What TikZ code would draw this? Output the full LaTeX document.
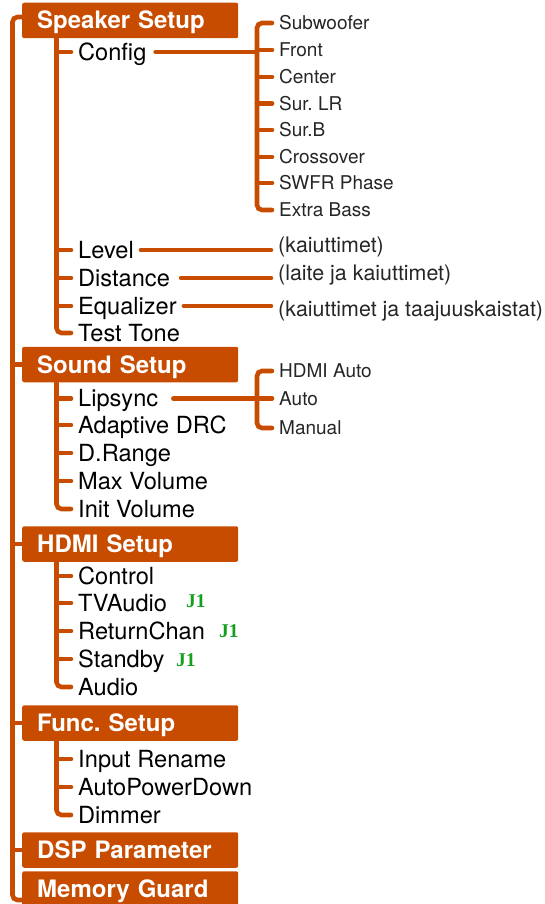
\documentclass[tikz,border=0pt]{standalone}
\usepackage{fontspec}
\setmainfont{TeX Gyre Heros}
\newfontfamily\jfont{Liberation Serif}
\usetikzlibrary{calc}
\definecolor{menuorange}{RGB}{200,76,0}
\definecolor{jgreen}{RGB}{20,160,30}
\frenchspacing

\begin{document}
\begin{tikzpicture}[x=1pt, y=1pt,
  menubox/.style={rectangle, rounded corners=2pt, fill=menuorange, text=white,
                  minimum width=216pt, minimum height=35.5pt,
                  inner xsep=15pt, inner ysep=0pt, text width=186pt, align=left,
                  anchor=west, text height=17pt, text depth=0pt,
                  font=\fontsize{24}{28}\selectfont\bfseries},
  item/.style={anchor=west, inner xsep=7pt, inner ysep=0pt,
               text height=16.8pt, text depth=0pt, font=\fontsize{23.6}{27}\selectfont},
  opt/.style={anchor=west, inner xsep=7pt, inner ysep=0pt, text=black!85,
              text height=13.7pt, text depth=0pt, font=\fontsize{19}{23}\selectfont},
  note/.style={anchor=west, inner xsep=7pt, inner ysep=0pt, text=black!85,
               text height=15.3pt, text depth=0pt, font=\fontsize{21.4}{25}\selectfont},
  jtag/.style={anchor=base west, inner sep=0pt, text=jgreen,
               font=\fontsize{19.5}{22}\jfont\bfseries},
  branch/.style={draw=menuorange, line width=4.6pt, line cap=round, rounded corners=5pt},
]
\useasboundingbox (0,0) rectangle (544,-904);

%% ── Menu boxes ──────────────────────────────────────────────────────
\node[menubox] (spk) at (22,-20.5) {Speaker Setup};
\node[menubox] (snd) at (22,-364.5) {Sound Setup};
\node[menubox] (hdm) at (22,-544)  {HDMI Setup};
\node[menubox] (fnc) at (22,-723)  {Func. Setup};
\node[menubox] (dsp) at (22,-850)  {DSP Parameter};
\node[menubox] (mem) at (22,-889)  {Memory Guard};

%% ── Speaker Setup items ─────────────────────────────────────────────
\node[item] (cfg)  at (71,-52)  {Config};
\node[item] (lvl)  at (71,-250) {Level};
\node[item] (dist) at (71,-278) {Distance};
\node[item] (eq)   at (71,-306) {Equalizer};
\node[item] (tone) at (71,-333) {Test Tone};

%% ── Config options ──────────────────────────────────────────────────
\node[opt] (sub)  at (272,-23)    {Subwoofer};
\node[opt] (frt)  at (272,-50)    {Front};
\node[opt] (cen)  at (272,-77)    {Center};
\node[opt] (slr)  at (272,-103.5) {Sur. LR};
\node[opt] (sb)   at (272,-130)   {Sur.B};
\node[opt] (xov)  at (272,-157)   {Crossover};
\node[opt] (swfr) at (272,-183)   {SWFR Phase};
\node[opt] (xbs)  at (272,-210)   {Extra Bass};

%% ── Notes ───────────────────────────────────────────────────────────
\node[note] (kai)  at (271,-245) {(kaiuttimet)};
\node[note] (lai)  at (271,-273) {(laite ja kaiuttimet)};
\node[note] (taa)  at (271,-309) {(kaiuttimet ja taajuuskaistat)};

%% ── Sound Setup items ───────────────────────────────────────────────
\node[item] (lip)  at (71,-398.5) {Lipsync};
\node[item] (drc)  at (71,-425)   {Adaptive DRC};
\node[item] (drng) at (71,-453)   {D.Range};
\node[item] (maxv) at (71,-481)   {Max Volume};
\node[item] (iniv) at (71,-509)   {Init Volume};

\node[opt] (hda)  at (272,-371)   {HDMI Auto};
\node[opt] (auto) at (272,-398.5) {Auto};
\node[opt] (man)  at (272,-428)   {Manual};

%% ── HDMI Setup items ────────────────────────────────────────────────
\node[item] (ctl)  at (71,-576) {Control};
\node[item] (tva)  at (71,-603) {TVAudio};
\node[item] (ret)  at (71,-631) {ReturnChan};
\node[item] (stb)  at (71,-659) {Standby};
\node[item] (aud)  at (71,-687) {Audio};

\node[jtag] (jtv) at (186,-607) {J1};
\node[jtag] (jrc) at (219,-637) {J1};
\node[jtag] (jsb) at (176,-666) {J1};

%% ── Func. Setup items ───────────────────────────────────────────────
\node[item] (ren)  at (71,-759) {Input Rename};
\node[item] (apd)  at (71,-787) {AutoPowerDown};
\node[item] (dim)  at (71,-815) {Dimmer};

%% ── Main trunk ──────────────────────────────────────────────────────
\coordinate (mtop) at (12.5,-17);
\coordinate (mbot) at (12.5,-900);
\draw[branch] (spk.west |- mtop) -- (mtop) -- (mbot) -- (mem.west |- mbot);
\draw[branch] (snd.west -| mtop) -- (snd.west);
\draw[branch] (hdm.west -| mtop) -- (hdm.west);
\draw[branch] (fnc.west -| mtop) -- (fnc.west);
\draw[branch] (dsp.west -| mtop) -- (dsp.west);

%% ── Speaker Setup branch ────────────────────────────────────────────
\coordinate (spktrk) at ($(spk.south west)+(34.5,0)$);
\draw[branch] (spktrk) |- (tone.west);
\draw[branch] (cfg.west -| spktrk)  -- (cfg.west);
\draw[branch] (lvl.west -| spktrk)  -- (lvl.west);
\draw[branch] (dist.west -| spktrk) -- (dist.west);
\draw[branch] (eq.west -| spktrk)   -- (eq.west);

\coordinate (cfgbr) at (257,-117);
\draw[branch] (sub.west) -| (cfgbr) |- (xbs.west);
\draw[branch] (frt.west -| cfgbr)  -- (frt.west);
\draw[branch] (cen.west -| cfgbr)  -- (cen.west);
\draw[branch] (slr.west -| cfgbr)  -- (slr.west);
\draw[branch] (sb.west -| cfgbr)   -- (sb.west);
\draw[branch] (xov.west -| cfgbr)  -- (xov.west);
\draw[branch] (swfr.west -| cfgbr) -- (swfr.west);
\draw[branch, shorten <=2pt] (cfg.east) -- (cfg.east -| cfgbr);

\draw[branch] (lvl.east) -- (lvl.east -| kai.west);
\draw[branch, shorten <=4pt] (dist.east) -- (dist.east -| lai.west);
\draw[branch] (eq.east) -- (eq.east -| taa.west);

%% ── Sound Setup branch ──────────────────────────────────────────────
\coordinate (sndtrk) at ($(snd.south west)+(34.5,0)$);
\draw[branch] (sndtrk) |- (iniv.west);
\draw[branch] (lip.west -| sndtrk)  -- (lip.west);
\draw[branch] (drc.west -| sndtrk)  -- (drc.west);
\draw[branch] (drng.west -| sndtrk) -- (drng.west);
\draw[branch] (maxv.west -| sndtrk) -- (maxv.west);

\coordinate (lipbr) at (257,-400);
\draw[branch] (hda.west) -| (lipbr) |- (man.west);
\draw[branch, shorten <=8pt] (lip.east) -- (auto.west);

%% ── HDMI Setup branch ───────────────────────────────────────────────
\coordinate (hdmtrk) at ($(hdm.south west)+(34.5,0)$);
\draw[branch] (hdmtrk) |- (aud.west);
\draw[branch] (ctl.west -| hdmtrk) -- (ctl.west);
\draw[branch] (tva.west -| hdmtrk) -- (tva.west);
\draw[branch] (ret.west -| hdmtrk) -- (ret.west);
\draw[branch] (stb.west -| hdmtrk) -- (stb.west);

%% ── Func. Setup branch ──────────────────────────────────────────────
\coordinate (fnctrk) at ($(fnc.south west)+(34.5,0)$);
\draw[branch] (fnctrk) |- (dim.west);
\draw[branch] (ren.west -| fnctrk) -- (ren.west);
\draw[branch] (apd.west -| fnctrk) -- (apd.west);

\end{tikzpicture}
\end{document}
